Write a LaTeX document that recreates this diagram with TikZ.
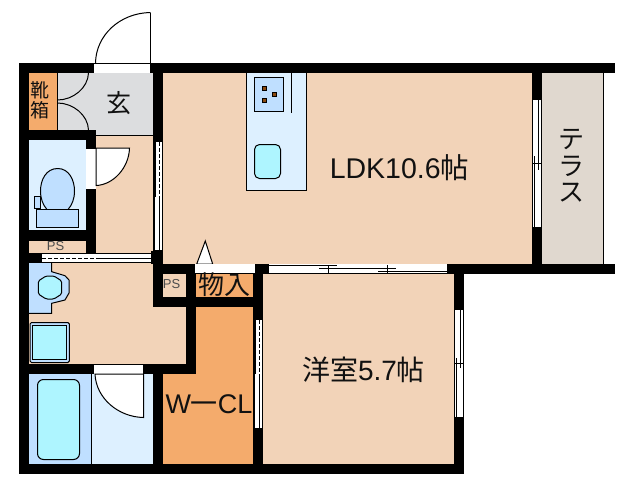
\documentclass[tikz,border=0pt]{standalone}
\usepackage{fontspec}
\setmainfont{Liberation Sans}
\newfontfamily\jp{Noto Sans CJK JP}
\definecolor{peach}{HTML}{F2D3B8}
\definecolor{orng}{HTML}{F4AB6C}
\definecolor{grayfl}{HTML}{DCDDDF}
\definecolor{terr}{HTML}{E0D8CF}
\definecolor{pale}{HTML}{DDF0FF}
\definecolor{midb}{HTML}{BFDFFF}
\definecolor{aqua}{HTML}{AEF5FF}
\definecolor{burner}{HTML}{8B4A10}
\definecolor{txt}{HTML}{111111}
\newcommand{\fs}[1]{\fontsize{#1}{#1}\selectfont}
\tikzset{
  x=1pt,y=-1pt,
  wall/.style={fill=black,draw=none},
  ln/.style={draw=black,line width=1pt},
  fix/.style={draw=black,line width=1pt},
  opening/.style={fill=white,draw=none},
  lbl/.style={inner sep=0pt,text=txt},
  pslbl/.style={inner sep=0pt,text=black!70,font=\fs{13}},
  dash1/.style={draw=black,line width=1pt,dash pattern=on 4pt off 2pt},
}
\begin{document}
\begin{tikzpicture}
\useasboundingbox (0,0) rectangle (638,480);
% floors
\fill[peach] (163,73) rectangle (532,264);
\fill[peach] (96,135) rectangle (153,253);
\fill[peach] (263,274) rectangle (454,464);
\fill[peach] (29,263) rectangle (186,364);
\fill[peach] (29,241) rectangle (86,253);
\fill[peach] (163,274) rectangle (186,297);
\fill[grayfl] (57,73) rectangle (153,135);
\fill[orng] (29,73) rectangle (57,130);
\fill[orng] (196,274) rectangle (253,297);
\fill[orng] (196,307) rectangle (253,374);
\fill[orng] (163,374) rectangle (253,464);
\fill[terr] (542,73) rectangle (603,264);
\fill[pale] (29,140) rectangle (86,230);
\fill[midb] (29,374) rectangle (91.7,464);
\fill[pale] (91.7,374) rectangle (153,464);
% walls
\fill[wall] (19,63) rectangle (615,73);
\fill[wall] (19,63) rectangle (29,474);
\fill[wall] (19,464) rectangle (464,474);
\fill[wall] (153,63) rectangle (163,264);
\fill[wall] (532,63) rectangle (542,274);
\fill[wall] (163,264) rectangle (615,274);
\fill[wall] (19,130) rectangle (96,140);
\fill[wall] (86,130) rectangle (96,253);
\fill[wall] (19,230) rectangle (96,241);
\fill[wall] (19,253) rectangle (151,263);
\fill[wall] (151,251) rectangle (163,264);
\fill[wall] (153,264) rectangle (196,307);
\fill[peach] (163,274) rectangle (186,297);
\fill[wall] (186,264) rectangle (196,374);
\fill[wall] (186,297) rectangle (263,307);
\fill[wall] (19,364) rectangle (196,374);
\fill[wall] (153,364) rectangle (163,474);
\fill[wall] (253,264) rectangle (263,474);
\fill[wall] (454,264) rectangle (464,474);
% entrance door
\fill[opening] (94,63.5) rectangle (150,72.5);
\draw[ln] (94,63.5) -- (150.5,63.5);
\draw[ln] (150.5,12.5) -- (150.5,72);
\draw[ln] (95.5,63) .. controls (96,35) and (120,13) .. (150.5,12.5);
% shoe box
\draw[ln] (57.5,73) -- (57.5,130);
\draw[ln] (57.5,100) .. controls (73,100) and (88,88) .. (88.5,73);
\draw[ln] (57.5,103) .. controls (73,103) and (88,115) .. (88.5,130);
\draw[ln] (96,135.5) -- (153,135.5);
% toilet door
\fill[opening] (86,148) rectangle (96,189);
\draw[ln,fill=white] (96,148) -- (129.5,148) .. controls (129,168) and (113,185) .. (96,185.5) -- cycle;
\draw[ln] (86,148) -- (96,148);
% toilet
\draw[fix,fill=midb] (57.7,168.5) .. controls (46,168.5) and (40.5,180) .. (40.5,191) .. controls (40.5,199) and (43,205) .. (47,209.5) -- (68,209.5) .. controls (72,205) and (74.5,199) .. (74.5,191) .. controls (74.5,180) and (69,168.5) .. (57.7,168.5) -- cycle;
\draw[fix,fill=midb] (36.5,209.5) rectangle (78.5,227.5);
\draw[fix,fill=midb] (34.5,196.5) rectangle (40.5,208.5);
% hall door (upper and lower sliding panels)
\fill[opening] (156,142) rectangle (162,197);
\draw[dash1] (159,142) -- (159,197);
\fill[opening] (153.5,197) rectangle (162,250.5);
\draw[ln] (154,197) -- (154,250.5) (159,197) -- (159,250.5) -- (153.5,250.5) (159,250.5) -- (162,250.5) (162,142) -- (162,250.5);
% washroom sliding door
\fill[opening] (42,254) rectangle (151,262.5);
\draw[dash1] (42,258.5) -- (96,258.5);
\draw[ln] (96,258.5) -- (151,258.5) (96,253.5) -- (151,253.5) (42,262.5) -- (151,262.5);
% basin
\fill[midb] (29,263) -- (51.7,263) -- (51.7,313.3) -- (29,313.3) -- cycle;
\draw[ln,fill=midb] (51.7,263) -- (51.7,271.7) -- (65,275.7) -- (69,280) -- (69,293) -- (65,300) -- (51.7,303.3) -- (51.7,313.3) -- (29,313.3);
\draw[fix,fill=aqua,rounded corners=1.5pt] (38.3,281) -- (46,276) -- (54,276) -- (61.7,281) -- (61.7,294) -- (54,299) -- (46,299) -- (38.3,294) -- cycle;
% washing pan
\draw[ln,fill=midb,rounded corners=1.5pt] (30,322.5) rectangle (69.3,362.5);
\draw[ln,fill=aqua] (32.5,325.5) rectangle (66.5,359.5);
% bath door
\fill[opening] (94,364.5) rectangle (143.7,373.7);
\draw[ln,fill=white] (95,374) .. controls (96,398) and (118,417) .. (143.5,417.5) -- (143.5,374) -- cycle;
\draw[ln] (143.5,364) -- (143.5,374);
% bath
\draw[ln] (91.7,374) -- (91.7,464);
\draw[ln,fill=aqua,rounded corners=6pt] (37.5,379.5) rectangle (79.5,459.5);
% kitchen
\draw[ln,fill=pale] (246.5,73) -- (246.5,190) -- (306.5,190) -- (306.5,73);
\draw[ln,fill=midb] (254.5,77.5) rectangle (283.5,111.5);
\draw[ln] (291.5,73) -- (291.5,112.5);
\foreach \bx/\by in {264.7/88,274.5/94,264.5/100}{
  \draw[draw=black,line width=0.8pt,fill=burner] (\bx-2,\by-2) rectangle (\bx+2,\by+2);
}
\draw[ln,fill=aqua,rounded corners=5pt] (254.5,144.5) rectangle (280.5,178.5);
% triangle and storage opening
\draw[ln,fill=white] (196.7,264) -- (205.3,241) -- (212.7,264) -- cycle;
\fill[opening] (195,264) rectangle (255,273);
% LDK / bedroom sliding window
\fill[opening] (269,264) rectangle (446.5,273.5);
\draw[ln] (269,273.5) -- (446.5,273.5);
\draw[ln] (269,265) -- (336.7,265);
\draw[ln] (319,268.5) -- (395.7,268.5);
\draw[ln] (378,271.5) -- (446.5,271.5);
\draw[ln] (328.5,265) -- (328.5,273) (387.5,265) -- (387.5,273);
% W-CL door
\fill[opening] (256,320) rectangle (262,374);
\draw[dash1] (259,320) -- (259,374);
\fill[opening] (253.5,374) rectangle (262,428);
\draw[ln] (254,374) -- (254,428) -- (262,428) (259,374) -- (259,428) (262,320) -- (262,428);
% bedroom window
\fill[opening] (454.5,309) rectangle (463.5,417.5);
\draw[ln] (454.5,309) -- (454.5,417.5) -- (464,417.5) (463.5,309) -- (463.5,417.5) (454.5,309) -- (463.5,309);
\draw[ln] (460.5,309) -- (460.5,368) (456.5,358) -- (456.5,417.5) (454.5,363.5) -- (463.5,363.5);
% LDK window
\fill[opening] (532.5,99) rectangle (541.5,227);
\draw[ln] (532.5,99) -- (532.5,227) -- (542,227) (541.5,99) -- (541.5,227) (532.5,99) -- (541.5,99);
\draw[ln] (538.5,99) -- (538.5,170) (534.5,156) -- (534.5,227) (532.5,163.5) -- (541.5,163.5);
% terrace edge
\draw[ln] (603.5,73) -- (603.5,264);
% labels
\node[lbl,font=\jp\fs{19}] (shoeA) at (40,90) {靴};
\node[lbl,font=\jp\fs{19}] (shoeB) at (40,110) {箱};
\node[lbl,font=\jp\fs{25}] (entry) at (119,103) {玄};
\node[lbl,font=\fs{28.5}] (ldk) at (399.5,168) {LDK10.6{\jp 帖}};
\node[lbl,font=\jp\fs{26}] (terA) at (571,139) {テ};
\node[lbl,font=\jp\fs{26}] (terB) at (571,166) {ラ};
\node[lbl,font=\jp\fs{26}] (terC) at (571,193) {ス};
\node[lbl,font=\jp\fs{26}] (store) at (224.5,285) {物入};
\node[lbl,font=\fs{27}] (wcl) at (209,404) {W{\jp 一}CL};
\node[lbl,font=\fs{28}] (room) at (363.5,370) {{\jp 洋室}5.7{\jp 帖}};
\node[pslbl] (psA) at (55.5,246) {PS};
\node[pslbl] (psB) at (171.5,284.5) {PS};
\end{tikzpicture}
\end{document}
